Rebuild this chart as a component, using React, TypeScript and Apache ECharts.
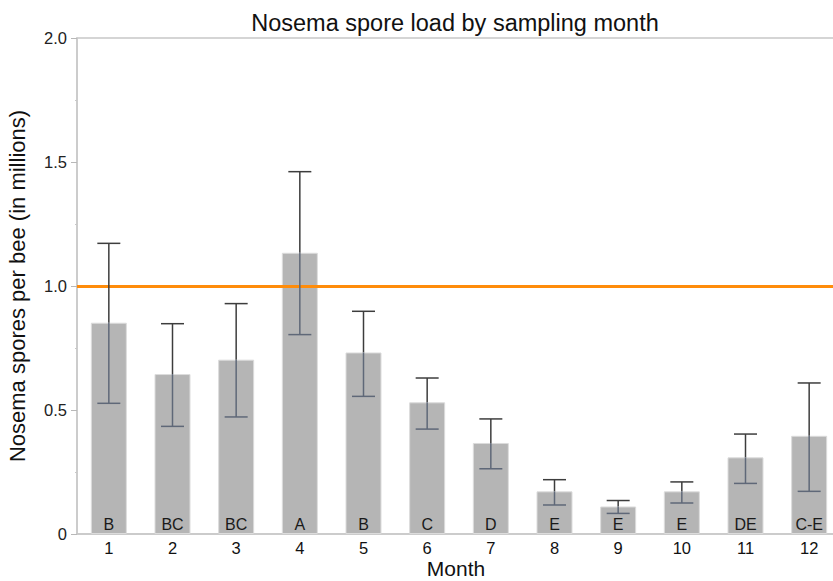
import React, { useEffect, useRef } from "react";
import * as echarts from "echarts";

const months = ["1", "2", "3", "4", "5", "6", "7", "8", "9", "10", "11", "12"];
const means = [0.852, 0.645, 0.703, 1.134, 0.732, 0.531, 0.367, 0.172, 0.111, 0.172, 0.309, 0.396];
const upper = [1.172, 0.848, 0.929, 1.461, 0.898, 0.629, 0.464, 0.219, 0.135, 0.21, 0.403, 0.609];
const lower = [0.527, 0.434, 0.472, 0.804, 0.555, 0.423, 0.263, 0.117, 0.083, 0.125, 0.204, 0.172];
const letters = ["B", "BC", "BC", "A", "B", "C", "D", "E", "E", "E", "DE", "C-E"];
const threshold = 1.0;
const yTicks = { min: 0, max: 2, interval: 0.5 };

const FONT = "'Liberation Sans', Arial, sans-serif";

export default function App() {
  const ref = useRef<HTMLDivElement>(null);

  useEffect(() => {
    if (!ref.current) return;
    const chart = echarts.init(ref.current, undefined, { renderer: "svg" });
    const errData = months.map((_, i) => [i, lower[i], upper[i], means[i]]);

    chart.setOption({
      animation: false,
      backgroundColor: "#ffffff",
      title: {
        text: "Nosema spore load by sampling month",
        left: 450,
        top: 6,
        textAlign: "center",
        textStyle: { fontFamily: FONT, fontSize: 23.5, fontWeight: "normal", color: "#111" },
      },
      graphic: [
        {
          type: "text",
          x: 456,
          y: 568,
          style: {
            text: "Month",
            fontFamily: FONT,
            fontSize: 21,
            fill: "#111",
            align: "center",
            verticalAlign: "middle",
          },
        },
      ],
      grid: {
        left: 77,
        top: 38,
        width: 764,
        height: 496,
        show: true,
        borderColor: "#c8c8c8",
        borderWidth: 1.5,
        containLabel: false,
        outerBoundsMode: "none",
      },
      xAxis: {
        type: "category",
        data: months,
        axisLine: { show: true, lineStyle: { color: "#c8c8c8", width: 1.5 } },
        axisTick: { show: false },
        axisLabel: { fontFamily: FONT, fontSize: 16.5, color: "#111", margin: 5 },
      },
      yAxis: {
        type: "value",
        min: yTicks.min,
        max: yTicks.max,
        interval: yTicks.interval,
        name: "Nosema spores per bee (in millions)",
        nameLocation: "middle",
        nameGap: 49,
        nameTextStyle: { fontFamily: FONT, fontSize: 22, color: "#111" },
        axisLine: { show: true, lineStyle: { color: "#c8c8c8", width: 1.5 } },
        axisTick: { show: true, length: 6, lineStyle: { color: "#b8b8b8" } },
        minorTick: { show: true, splitNumber: 2, length: 2, lineStyle: { color: "#c8c8c8" } },
        splitLine: { show: false },
        axisLabel: {
          fontFamily: FONT,
          fontSize: 16.5,
          color: "#222",
          margin: 10,
          formatter: (v: number) => (v === 0 ? "0" : v.toFixed(1)),
        },
      },
      series: [
        {
          type: "bar",
          data: means,
          barWidth: 36,
          itemStyle: { color: "#b5b5b5", borderColor: "#dcdcdc", borderWidth: 1 },
          label: {
            show: true,
            position: "insideBottom",
            distance: 2,
            fontFamily: FONT,
            fontSize: 16,
            color: "#1a1a1a",
            formatter: (p: any) => letters[p.dataIndex],
          },
          markLine: {
            silent: true,
            symbol: "none",
            label: { show: false },
            lineStyle: { color: "#ff8c0a", width: 3, type: "solid" },
            data: [{ yAxis: threshold }],
          },
          z: 2,
        },
        {
          type: "custom",
          data: errData,
          z: 5,
          renderItem: (params: any, api: any) => {
            const idx = api.value(0);
            const lo = api.coord([idx, api.value(1)]);
            const hi = api.coord([idx, api.value(2)]);
            const mid = api.coord([idx, api.value(3)]);
            const x = lo[0];
            const half = 11.5;
            const dark = "#3d3d3d";
            const inside = "#5f6878";
            return {
              type: "group",
              children: [
                { type: "line", shape: { x1: x, y1: hi[1], x2: x, y2: mid[1] }, style: { stroke: dark, lineWidth: 1.5 } },
                { type: "line", shape: { x1: x, y1: mid[1], x2: x, y2: lo[1] }, style: { stroke: inside, lineWidth: 1.5 } },
                { type: "line", shape: { x1: x - half, y1: hi[1], x2: x + half, y2: hi[1] }, style: { stroke: dark, lineWidth: 1.5 } },
                { type: "line", shape: { x1: x - half, y1: lo[1], x2: x + half, y2: lo[1] }, style: { stroke: inside, lineWidth: 1.5 } },
              ],
            };
          },
        },
      ],
    });

    return () => chart.dispose();
  }, []);

  return (
    <div
      ref={ref}
      style={{ position: "fixed", left: 0, top: 0, width: 833, height: 581, background: "#fff" }}
    />
  );
}
